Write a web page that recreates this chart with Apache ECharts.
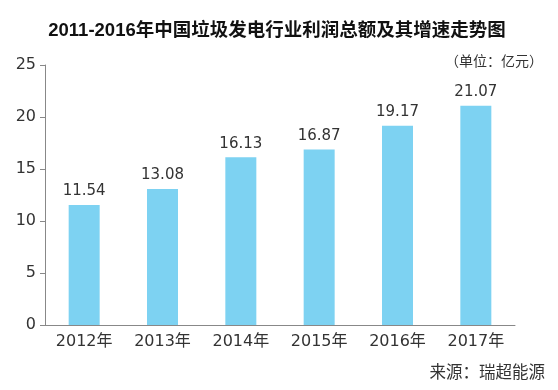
<!DOCTYPE html>
<html><head><meta charset="utf-8">
<script src="https://cdn.jsdelivr.net/npm/echarts@6/dist/echarts.min.js"></script>
<style>html,body{margin:0;padding:0;background:#fff}#c{width:558px;height:390px}</style>
</head><body><div id="c"></div>
<script>
const categories = ['2012年','2013年','2014年','2015年','2016年','2017年'];
const profits = [11.54, 13.08, 16.13, 16.87, 19.17, 21.07];
const yMin = 0, yMax = 25, yStep = 5;
const titleText = '2011-2016年中国垃圾发电行业利润总额及其增速走势图';
const unitText = '（单位：亿元）';
const sourceText = '来源：瑞超能源';

const FONT = '"Liberation Sans", "Noto Sans CJK SC", sans-serif';
const NUMFONT = '"DejaVu Sans", "Noto Sans CJK SC", sans-serif';
const chart = echarts.init(document.getElementById('c'));
chart.setOption({
  backgroundColor: '#fff',
  animation: false,
  textStyle: { fontFamily: FONT },
  title: [
    { text: titleText, left: 272, top: 17, textAlign: 'center',
      textStyle: { fontSize: 18.5, fontWeight: 'bold', color: '#111', fontFamily: FONT } },
    { text: unitText, right: 10, top: 50,
      textStyle: { fontSize: 14, fontWeight: 'normal', color: '#333', fontFamily: FONT } },
    { text: sourceText, right: 8, top: 360,
      textStyle: { fontSize: 16.5, fontWeight: 'normal', color: '#333', fontFamily: FONT } }
  ],
  grid: { left: 45, right: 43, top: 65, bottom: 65, containLabel: false },
  xAxis: {
    type: 'category', data: categories,
    axisLine: { lineStyle: { color: '#888', width: 1 } },
    axisTick: { show: false },
    axisLabel: { fontSize: 16, color: '#333', margin: 9, fontFamily: NUMFONT }
  },
  yAxis: {
    type: 'value', min: yMin, max: yMax, interval: yStep,
    axisLine: { show: true, lineStyle: { color: '#888', width: 1 } },
    axisTick: { show: true, length: 5, lineStyle: { color: '#888' } },
    splitLine: { show: false },
    axisLabel: { fontSize: 16, color: '#333', margin: 9, fontFamily: NUMFONT }
  },
  series: [{
    type: 'bar', data: profits, barWidth: 31,
    itemStyle: { color: '#7dd2f2' },
    label: { show: true, position: 'top', distance: 6, fontSize: 15, color: '#333', fontFamily: NUMFONT,
      formatter: p => p.value.toFixed(2) }
  }]
});
</script></body></html>
